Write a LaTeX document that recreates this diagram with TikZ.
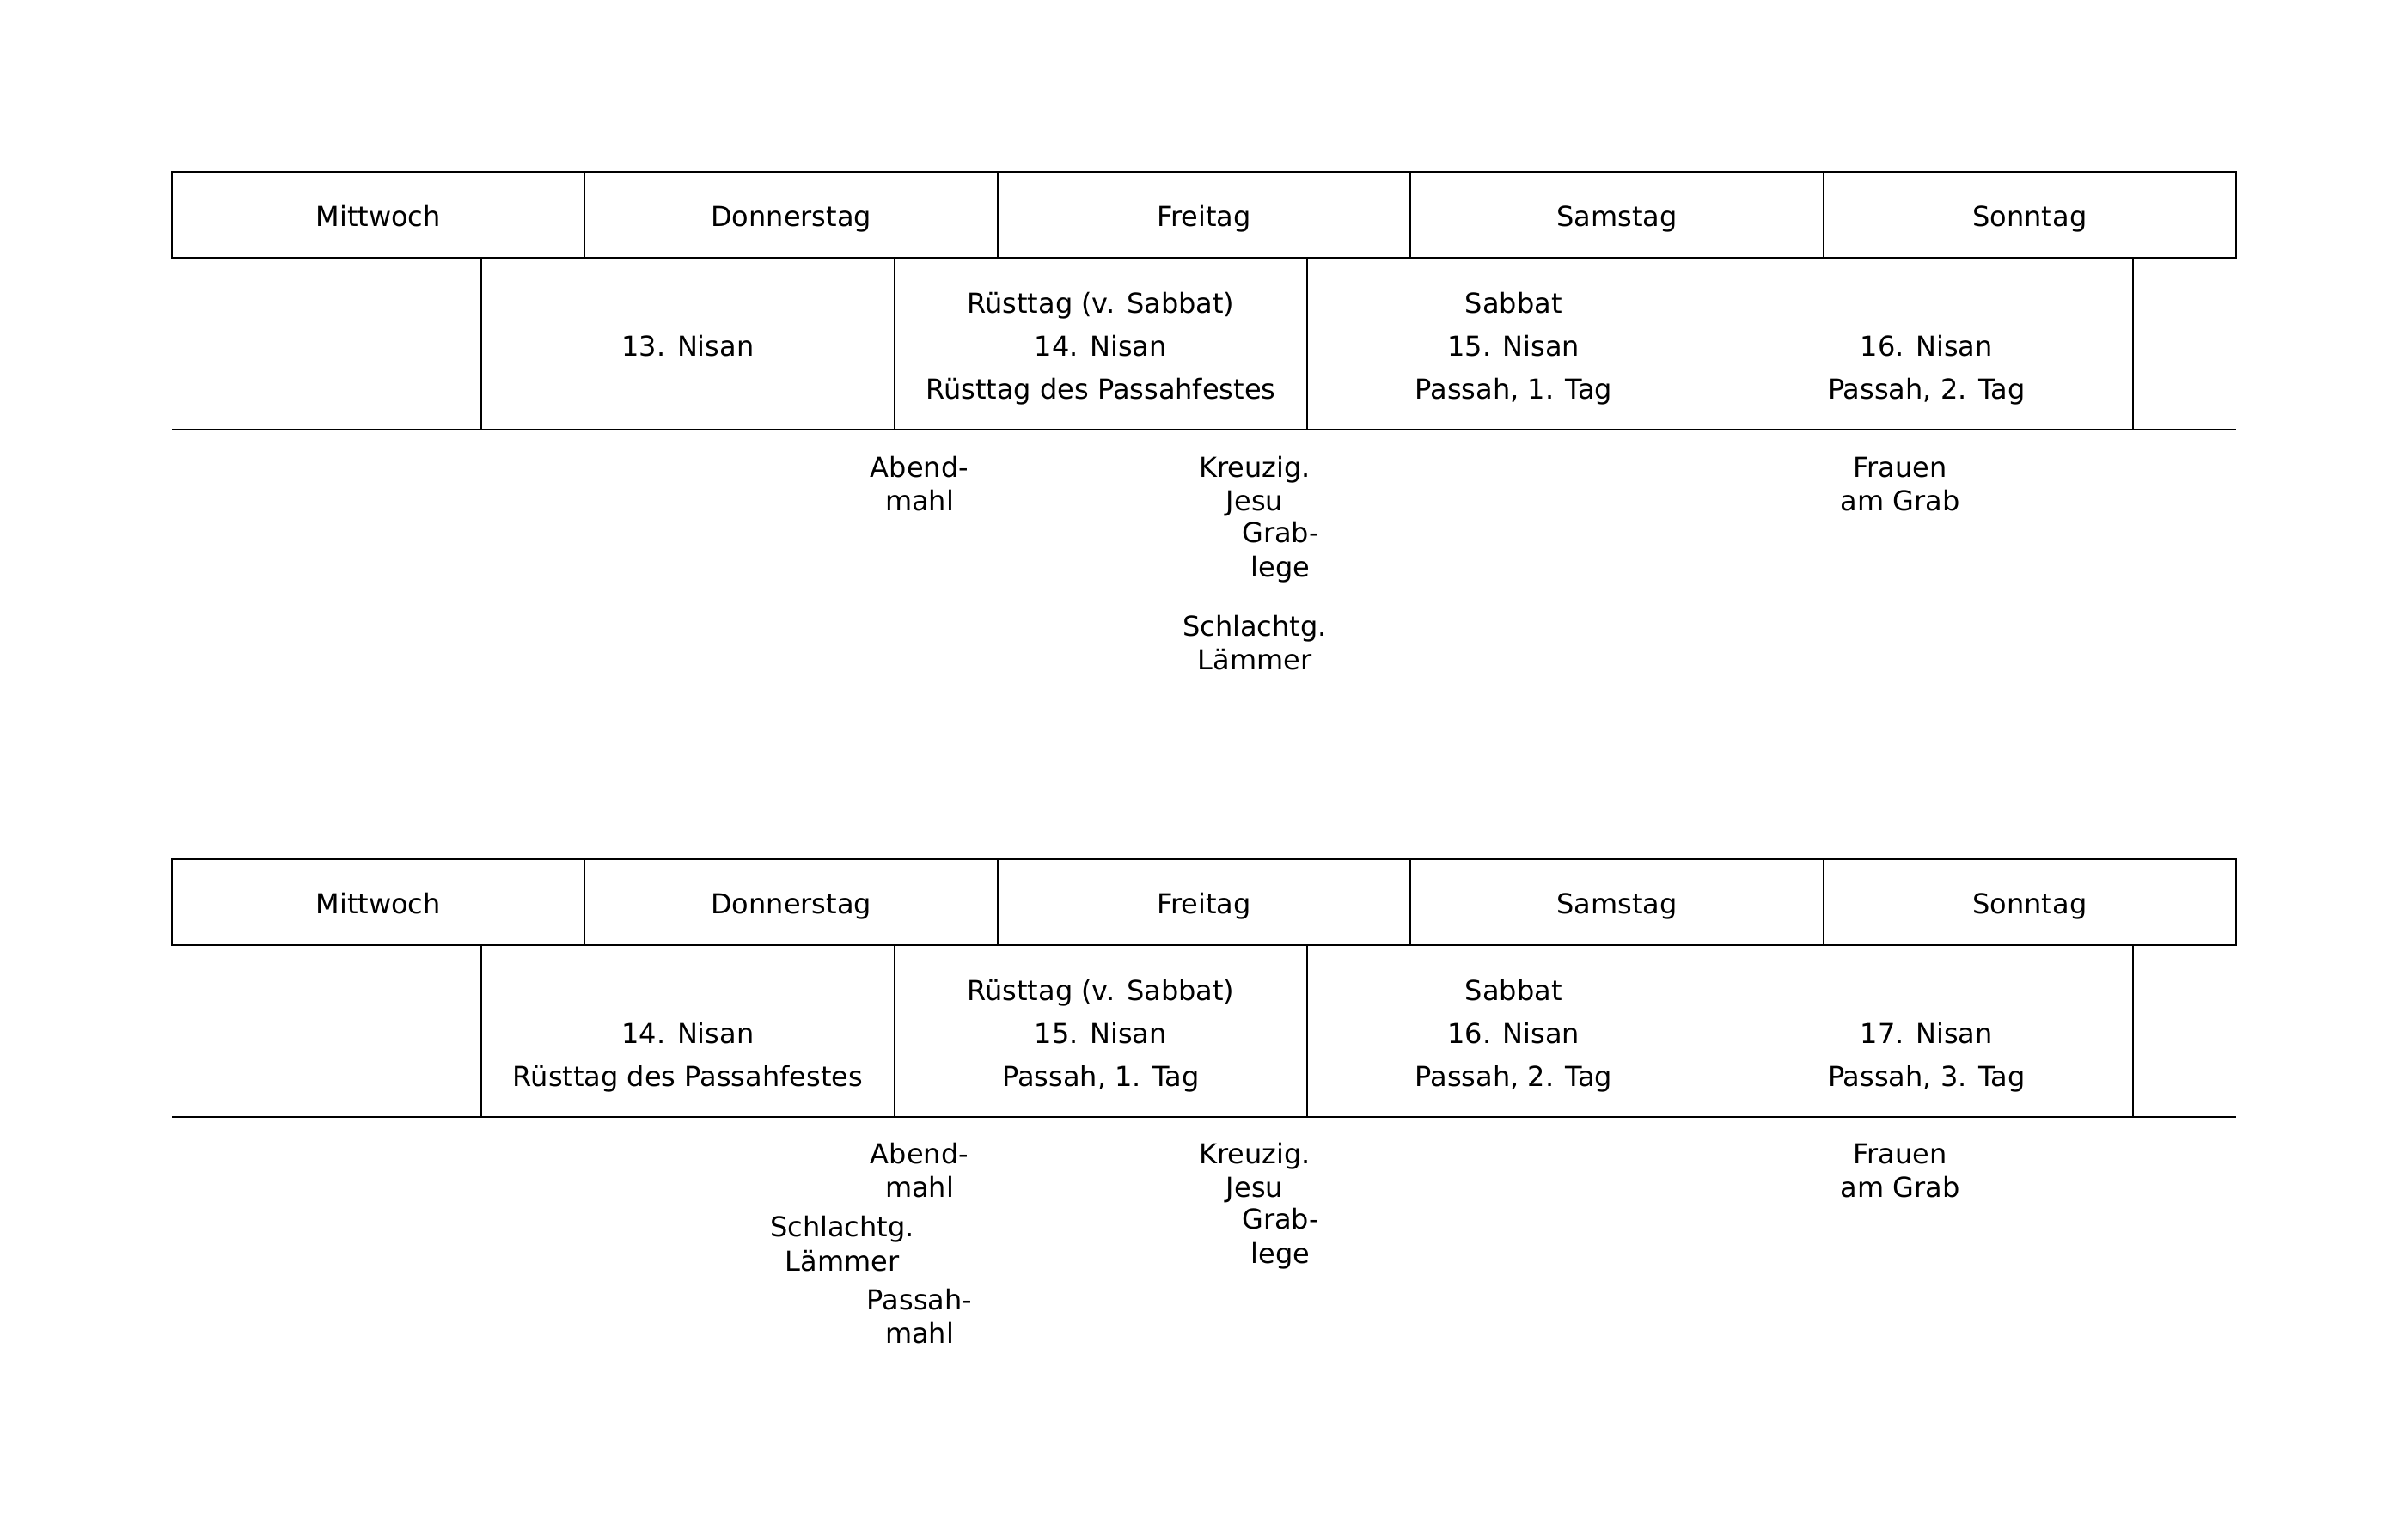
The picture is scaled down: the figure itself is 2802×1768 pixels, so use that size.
\documentclass[tikz,border=0pt]{standalone}
\usepackage{fontspec}
\setmainfont{DejaVu Sans}
\begin{document}
\begin{tikzpicture}[x=1bp,y=-1bp,line width=1.8bp,
  every node/.style={font=\fontsize{32bp}{38bp}\selectfont,inner sep=0pt},
  daybox/.style={draw,minimum width=480.4bp,minimum height=100bp,text height=26bp,text depth=0bp},
  nisanbox/.style={draw,minimum width=480.4bp,minimum height=200bp},
  lbl/.style={anchor=base}]
\path[use as bounding box] (0,0) rectangle (2802,1768);
\foreach \oy/\t in {0/A,800/B}{
  % day row
  \foreach \i/\d in {0/Mittwoch,1/Donnerstag,2/Freitag,3/Samstag,4/Sonntag}{
    \node[daybox] (day\t\i) at ({200+240.2+\i*480.4},{250+\oy}) {\d};
  }
  % nisan row cells
  \foreach \i in {0,1,2,3}{
    \node[nisanbox] (cell\t\i) at ({560.3+240.2+\i*480.4},{400+\oy}) {};
  }
  \coordinate (bl\t) at (200,{500+\oy});
  \coordinate (br\t) at (2602,{500+\oy});
  \draw (bl\t) -- (br\t);
}
% ---- diagram A texts
\node[lbl] (a01) at (800.5,414) {13. Nisan};
\node[lbl] (a10) at (1280.9,364) {Rüsttag (v. Sabbat)};
\node[lbl] (a11) at (1280.9,414) {14. Nisan};
\node[lbl] (a12) at (1280.9,464) {Rüsttag des Passahfestes};
\node[lbl] (a20) at (1761.3,364) {Sabbat};
\node[lbl] (a21) at (1761.3,414) {15. Nisan};
\node[lbl] (a22) at (1761.3,464) {Passah, 1. Tag};
\node[lbl] (a31) at (2241.7,414) {16. Nisan};
\node[lbl] (a32) at (2241.7,464) {Passah, 2. Tag};
\node[lbl] (aAbend1) at (1070,555) {Abend-};
\node[lbl] (aAbend2) at (1070,594) {mahl};
\node[lbl] (aKreuz1) at (1460,555) {Kreuzig.};
\node[lbl] (aKreuz2) at (1460,594) {Jesu};
\node[lbl] (aGrab1) at (1490,631) {Grab-};
\node[lbl] (aGrab2) at (1490,671) {lege};
\node[lbl] (aSchl1) at (1460,740) {Schlachtg.};
\node[lbl] (aSchl2) at (1460,779) {Lämmer};
\node[lbl] (aFrau1) at (2211,555) {Frauen};
\node[lbl] (aFrau2) at (2211,594) {am Grab};
% ---- diagram B texts
\node[lbl] (b01) at (800.5,1214) {14. Nisan};
\node[lbl] (b02) at (800.5,1264) {Rüsttag des Passahfestes};
\node[lbl] (b10) at (1280.9,1164) {Rüsttag (v. Sabbat)};
\node[lbl] (b11) at (1280.9,1214) {15. Nisan};
\node[lbl] (b12) at (1280.9,1264) {Passah, 1. Tag};
\node[lbl] (b20) at (1761.3,1164) {Sabbat};
\node[lbl] (b21) at (1761.3,1214) {16. Nisan};
\node[lbl] (b22) at (1761.3,1264) {Passah, 2. Tag};
\node[lbl] (b31) at (2241.7,1214) {17. Nisan};
\node[lbl] (b32) at (2241.7,1264) {Passah, 3. Tag};
\node[lbl] (bAbend1) at (1070,1354) {Abend-};
\node[lbl] (bAbend2) at (1070,1393) {mahl};
\node[lbl] (bKreuz1) at (1460,1354) {Kreuzig.};
\node[lbl] (bKreuz2) at (1460,1393) {Jesu};
\node[lbl] (bGrab1) at (1490,1430) {Grab-};
\node[lbl] (bGrab2) at (1490,1470) {lege};
\node[lbl] (bSchl1) at (980,1439) {Schlachtg.};
\node[lbl] (bSchl2) at (980,1479) {Lämmer};
\node[lbl] (bPass1) at (1070,1524) {Passah-};
\node[lbl] (bPass2) at (1070,1563) {mahl};
\node[lbl] (bFrau1) at (2211,1354) {Frauen};
\node[lbl] (bFrau2) at (2211,1393) {am Grab};
\end{tikzpicture}
\end{document}
